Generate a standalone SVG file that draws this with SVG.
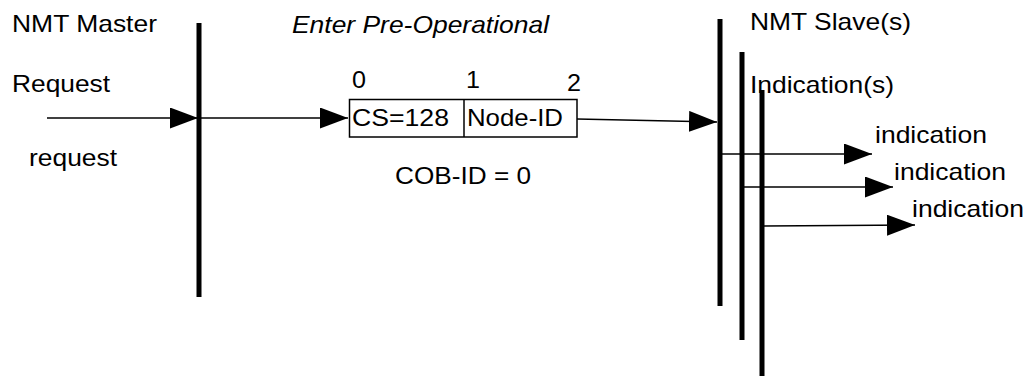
<svg xmlns="http://www.w3.org/2000/svg" width="1028" height="376" viewBox="0 0 1028 376">
<style>
text{font-family:"Liberation Sans",Arial,sans-serif;font-size:24px;fill:#000}
.it{font-style:italic}
.bar{stroke:#000;stroke-width:5;fill:none}
.ln{stroke:#000;stroke-width:1.5;fill:none;marker-end:url(#ah)}
.box{fill:#fff;stroke:#000;stroke-width:1.5}
</style>
<defs>
<marker id="ah" markerUnits="userSpaceOnUse" markerWidth="28" markerHeight="22" refX="28" refY="10.5" orient="auto">
<path d="M0,0 L28,10.5 L0,21 z" fill="#000"/>
</marker>
</defs>
<g id="master">
<line class="bar" x1="199" y1="23" x2="199" y2="297"/>
<text x="12" y="32" textLength="145" lengthAdjust="spacingAndGlyphs">NMT Master</text>
<text x="12" y="92" textLength="98" lengthAdjust="spacingAndGlyphs">Request</text>
<text x="29" y="166" textLength="88" lengthAdjust="spacingAndGlyphs">request</text>
</g>
<g id="title">
<text class="it" x="292" y="33" textLength="257" lengthAdjust="spacingAndGlyphs">Enter Pre-Operational</text>
</g>
<g id="frame">
<rect class="box" x="349.5" y="99.5" width="227.5" height="37.5"/>
<line x1="464" y1="99.5" x2="464" y2="137" stroke="#000" stroke-width="1.5"/>
<text x="352" y="126" textLength="97" lengthAdjust="spacingAndGlyphs">CS=128</text>
<text x="467" y="126" textLength="96" lengthAdjust="spacingAndGlyphs">Node-ID</text>
<text x="352" y="88" textLength="14" lengthAdjust="spacingAndGlyphs">0</text>
<text x="466" y="88" textLength="14" lengthAdjust="spacingAndGlyphs">1</text>
<text x="567" y="91" textLength="14" lengthAdjust="spacingAndGlyphs">2</text>
<text x="395" y="184" textLength="136" lengthAdjust="spacingAndGlyphs">COB-ID = 0</text>
</g>
<g id="slaves">
<line class="bar" x1="720" y1="19" x2="720" y2="306"/>
<line class="bar" x1="742" y1="52" x2="742" y2="340"/>
<line class="bar" x1="762" y1="90" x2="762" y2="376"/>
<text x="750" y="30" textLength="161" lengthAdjust="spacingAndGlyphs">NMT Slave(s)</text>
<text x="750" y="93" textLength="144" lengthAdjust="spacingAndGlyphs">Indication(s)</text>
<text x="875" y="143" textLength="112" lengthAdjust="spacingAndGlyphs">indication</text>
<text x="894" y="180" textLength="112" lengthAdjust="spacingAndGlyphs">indication</text>
<text x="912" y="217" textLength="112" lengthAdjust="spacingAndGlyphs">indication</text>
</g>
<g id="connectors">
<line class="ln" x1="47" y1="118" x2="198" y2="118"/>
<line class="ln" x1="201" y1="118" x2="348" y2="118"/>
<line class="ln" x1="577" y1="119" x2="717" y2="122"/>
<line class="ln" x1="722" y1="154" x2="872" y2="154"/>
<line class="ln" x1="744" y1="187" x2="893" y2="187"/>
<line class="ln" x1="764" y1="226" x2="915" y2="225"/>
</g>
</svg>
